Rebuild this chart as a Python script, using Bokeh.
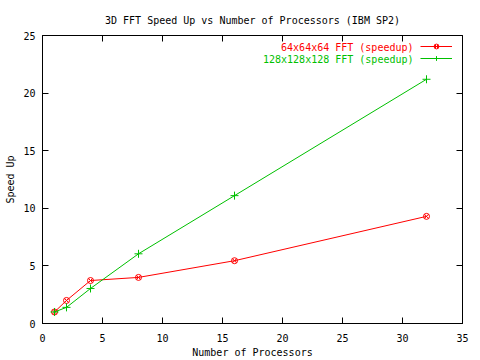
from bokeh.plotting import figure
from bokeh.models import Range1d, LinearAxis, Legend, LegendItem, Label, FixedTicker
from bokeh.embed import file_html
from bokeh.resources import INLINE

procs = [1, 2, 4, 8, 16, 32]
speed_64 = [1.0, 2.0, 3.73, 4.0, 5.45, 9.3]
speed_128 = [1.0, 1.4, 3.04, 6.05, 11.1, 21.2]
name_64 = "64x64x64 FFT (speedup)"
name_128 = "128x128x128 FFT (speedup)"
x_ticks = [0, 5, 10, 15, 20, 25, 30, 35]
y_ticks = [0, 5, 10, 15, 20, 25]

FONT = "DejaVu Sans Mono"
RED = "#ff0000"
GREEN = "#00c000"

p = figure(width=480, height=360, output_backend="svg", toolbar_location=None,
           x_range=Range1d(0, 35), y_range=Range1d(0, 25),
           min_border_left=42, min_border_right=18, min_border_top=35, min_border_bottom=37)
p.title.text = "3D FFT Speed Up vs Number of Processors (IBM SP2)"
p.title.align = "center"
p.title.text_font = FONT
p.title.text_font_size = "10px"
p.title.text_font_style = "normal"
p.title.text_color = "black"
p.title.standoff = 19
p.grid.visible = False
p.outline_line_color = "black"
p.outline_line_width = 1

for ax, ticks in ((p.xaxis[0], x_ticks), (p.yaxis[0], y_ticks)):
    ax.ticker = FixedTicker(ticks=ticks)
    ax.major_tick_in = 6
    ax.major_tick_out = 0
    ax.minor_tick_line_color = None
    ax.axis_line_color = "black"
    ax.major_tick_line_color = "black"
    ax.major_label_text_font = FONT
    ax.major_label_text_font_size = "10px"
    ax.major_label_text_color = "black"
    ax.axis_label_text_font = FONT
    ax.axis_label_text_font_size = "10px"
    ax.axis_label_text_font_style = "normal"
    ax.axis_label_text_color = "black"
p.xaxis[0].axis_label = "Number of Processors"
p.yaxis[0].axis_label = "Speed Up"
p.xaxis[0].major_label_standoff = 10
p.yaxis[0].major_label_standoff = 7
p.xaxis[0].axis_label_standoff = 2
p.yaxis[0].axis_label_standoff = 4

top = LinearAxis(ticker=FixedTicker(ticks=x_ticks[1:-1]), major_tick_in=6, major_tick_out=0,
                 minor_tick_line_color=None, major_label_overrides={t: "" for t in x_ticks[1:-1]},
                 major_label_standoff=0)
right = LinearAxis(ticker=FixedTicker(ticks=y_ticks[1:-1]), major_tick_in=6, major_tick_out=0,
                   minor_tick_line_color=None, major_label_overrides={t: "" for t in y_ticks[1:-1]},
                   major_label_standoff=0)
p.add_layout(top, "above")
p.add_layout(right, "right")

rl = p.line(procs, speed_64, line_color=RED, line_width=1)
rs = p.scatter(procs, speed_64, marker="circle_x", size=6, line_color=RED, fill_color=None, line_width=1)
gl = p.line(procs, speed_128, line_color=GREEN, line_width=1)
gs = p.scatter(procs, speed_128, marker="cross", size=8, line_color=GREEN, line_width=1)

legend = Legend(items=[LegendItem(label="", renderers=[rl, rs]), LegendItem(label="", renderers=[gl, gs])],
                location=(378, 259), glyph_width=32, glyph_height=12, label_height=12, label_width=0,
                label_standoff=0, label_text_font_size="10px", spacing=0, padding=0, margin=0,
                border_line_color=None, background_fill_alpha=0)
p.add_layout(legend, "center")

for txt, col, y in ((name_64, RED, 276), (name_128, GREEN, 264)):
    p.add_layout(Label(x=371, y=y, x_units="screen", y_units="screen", text=txt, text_color=col,
                       text_align="right", text_baseline="middle", text_font=FONT, text_font_size="10px"))

open("out.html", "w").write(file_html(p, INLINE))
